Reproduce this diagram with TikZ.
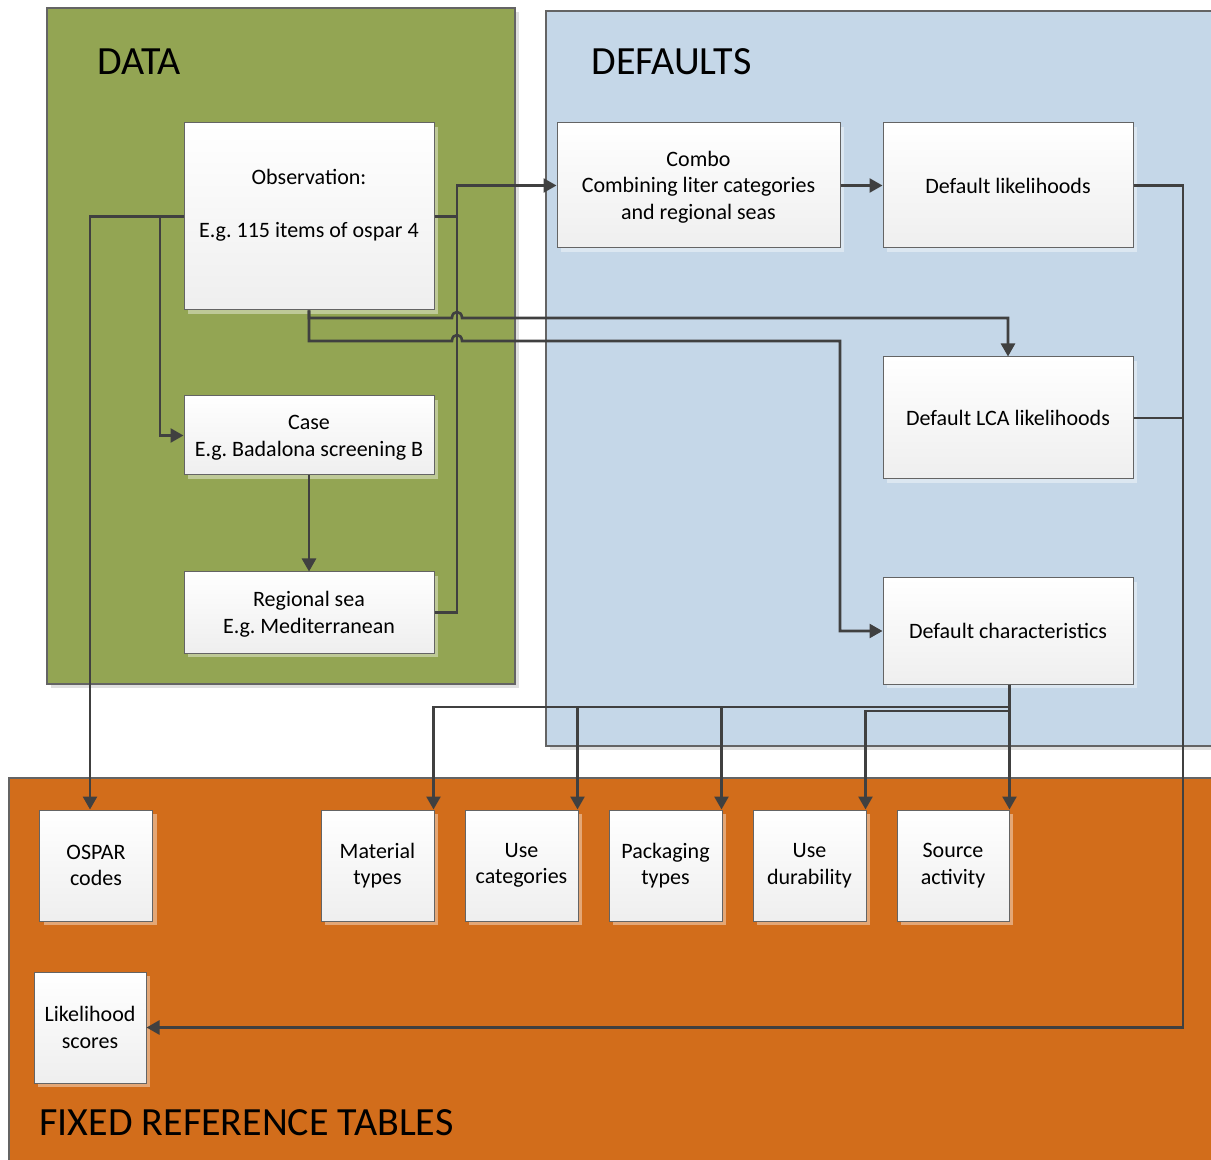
\documentclass[tikz,border=0pt]{standalone}
\usepackage{fontspec}
\setmainfont{Carlito}
\usetikzlibrary{arrows.meta,shadows}
\frenchspacing
\definecolor{datagreen}{RGB}{147,165,83}
\definecolor{defblue}{RGB}{197,215,232}
\definecolor{fixorange}{RGB}{210,109,27}
\definecolor{wire}{RGB}{64,64,64}
\definecolor{frame}{RGB}{100,100,100}
% first-line strut that pushes a label block slightly downwards
\newcommand{\toppad}[1]{\rule{0pt}{#1}}
\tikzset{
  panel/.style={draw=frame, line width=0.6pt,
    drop shadow={shadow xshift=2pt, shadow yshift=-2pt, fill=black, opacity=0.12}},
  box/.style={draw=frame, line width=0.5pt, top color=white, bottom color=gray!13,
    align=center, font=\fontsize{11}{13.25}\selectfont, inner sep=0pt,
    drop shadow={shadow xshift=2pt, shadow yshift=-2pt, fill=white, opacity=0.4}},
  smallbox/.style={box, minimum width=56.5pt, minimum height=55.5pt},
  title/.style={anchor=base west, font=\fontsize{20}{24}\selectfont, inner sep=0pt},
  wireline/.style={draw=wire, line width=1.3pt},
  conn/.style={wireline, -{Triangle[length=6.5pt,width=7pt]}},
}
\begin{document}
\begin{tikzpicture}[x=0.5pt,y=-0.5pt]
\useasboundingbox (0,0) rectangle (1211,1160);
\clip (0,0) rectangle (1211,1160);

% panels
\path[panel, fill=datagreen] (47,8) rectangle (515,684);
\path[panel, fill=defblue] (546,11) rectangle (1230,746);
\path[panel, fill=fixorange] (9,778) rectangle (1230,1180);

\node[title] (tdata) at (97,75) {DATA};
\node[title] (tdef) at (591,75) {DEFAULTS};
\node[title] (tfix) at (39,1135) {FIXED REFERENCE TABLES};

% data boxes
\node[box, minimum width=125pt, minimum height=93.5pt] (obs) at (309,216.5)
  {\toppad{11.3pt}Observation:\\\strut\\E.g. 115 items of ospar 4\\\strut};
\node[box, minimum width=125pt, minimum height=39.5pt] (case) at (309,435.5)
  {\toppad{11.3pt}Case\\E.g. Badalona screening B\strut};
\node[box, minimum width=125pt, minimum height=40.5pt] (reg) at (309,612.5)
  {\toppad{11.3pt}Regional sea\\E.g. Mediterranean\strut};

% default boxes
\node[box, minimum width=141.5pt, minimum height=62.5pt] (combo) at (698.5,185.5)
  {\toppad{11.3pt}Combo\\Combining liter categories\\and regional seas\strut};
\node[box, minimum width=125pt, minimum height=62.5pt] (dlik) at (1008,185.5)
  {Default likelihoods};
\node[box, minimum width=125pt, minimum height=61pt] (dlca) at (1008,418)
  {Default LCA likelihoods};
\node[box, minimum width=125pt, minimum height=53pt] (dchar) at (1008,631)
  {Default characteristics};

% reference tables
\node[smallbox] (ospar) at (96,865.5) {OSPAR\\codes};
\node[smallbox] (mat) at (377.5,865.5) {Material\\types};
\node[smallbox] (use) at (521.5,865.5) {Use\\categories};
\node[smallbox] (pack) at (665.5,865.5) {Packaging\\types};
\node[smallbox] (dur) at (809.5,865.5) {Use\\durability};
\node[smallbox, minimum width=56pt] (src) at (953,865.5) {Source\\activity};
\node[smallbox, minimum width=56pt] (lik) at (90,1027.5) {Likelihood\\scores};

% routing points
\coordinate (x90) at (90,0);
\coordinate (x160) at (160,0);
\coordinate (x457) at (457,0);
\coordinate (xdrop) at (1009.5,0);
\coordinate (bus) at (1009.5,707);
\coordinate (bus2) at (1009.5,711);
\coordinate (rail) at (1183,0);

% connectors from the observation
\draw[conn] (obs.west) -| (x90 |- ospar.north);
\draw[conn] (obs.west -| x160) |- (case.west);
\draw[wireline] (obs.east) -- (obs.east -| x457);
\draw[conn] (reg.east) -| (x457 |- combo.west) -- (combo.west);
\draw[conn] (case.south) -- (reg.north);
\draw[conn] (obs.south) |- (452,318) .. controls (452,310) and (462,310) .. (462,318)
  -| (dlca.north);
\draw[conn] (obs.south) |- (452,341) .. controls (452,333) and (462,333) .. (462,341)
  -- (840,341) |- (dchar.west);

% defaults
\draw[conn] (combo.east) -- (dlik.west);
\draw[conn] (dlik.east) -| (rail |- lik.east) -- (lik.east);
\draw[wireline] (dlca.east) -- (rail |- dlca.east);

% characteristics to reference tables
\draw[conn] (xdrop |- dchar.south) -- (bus) -| ([xshift=-0.5pt]mat.north east);
\draw[conn] (bus) -| ([xshift=-0.5pt]use.north east);
\draw[conn] (bus) -| ([xshift=-0.5pt]pack.north east);
\draw[conn] (xdrop |- dchar.south) -- (bus2) -| ([xshift=-0.5pt]dur.north east);
\draw[conn] (xdrop |- dchar.south) -- (xdrop |- src.north);
\end{tikzpicture}
\end{document}
